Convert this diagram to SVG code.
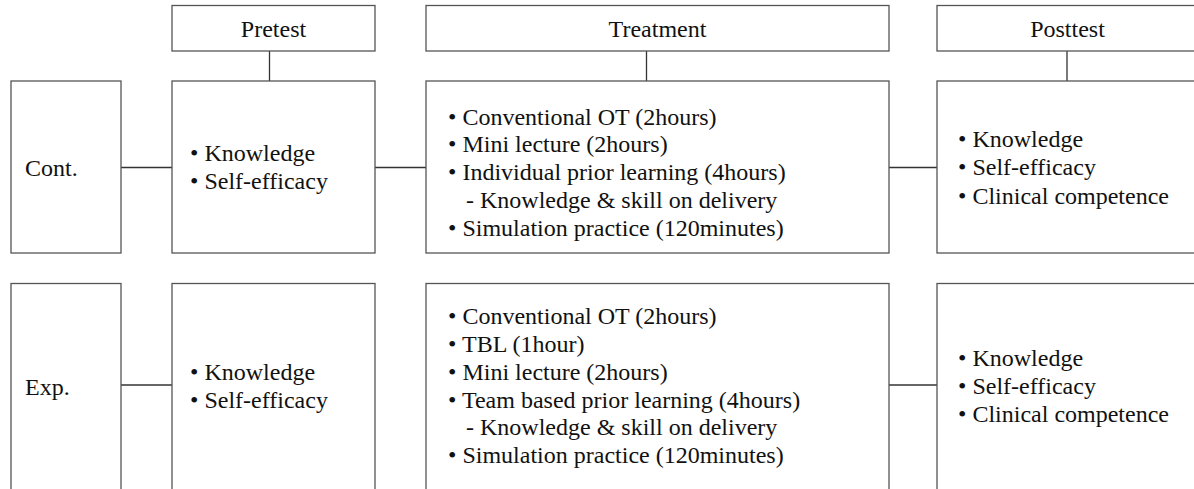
<svg xmlns="http://www.w3.org/2000/svg" width="1194" height="489" viewBox="0 0 1194 489">
<style>
.box{fill:#fff;stroke:#555;stroke-width:1.3}
.con{stroke:#333;stroke-width:1.3;fill:none}
text{font-family:"Liberation Serif","Times New Roman",serif;font-size:24px;fill:#111}
.c{text-anchor:middle}
</style>
<rect width="1194" height="489" fill="#fff"/>
<g id="connectors">
<line class="con" x1="269.5" y1="51" x2="269.5" y2="81"/>
<line class="con" x1="646.5" y1="51" x2="646.5" y2="81"/>
<line class="con" x1="1067" y1="51" x2="1067" y2="81"/>
<line class="con" x1="121" y1="167.5" x2="172" y2="167.5"/>
<line class="con" x1="375" y1="167.5" x2="426" y2="167.5"/>
<line class="con" x1="889" y1="167.5" x2="937" y2="167.5"/>
<line class="con" x1="121" y1="385" x2="172" y2="385"/>
<line class="con" x1="889" y1="385" x2="937" y2="385"/>
</g>
<g id="hdr-pretest"><rect class="box" x="172" y="5.5" width="203" height="45.5"/><text class="c" x="273.5" y="36.5">Pretest</text></g>
<g id="hdr-treatment"><rect class="box" x="426" y="5.5" width="463" height="45.5"/><text class="c" x="657.5" y="36.5">Treatment</text></g>
<g id="hdr-posttest"><rect class="box" x="937" y="5.5" width="263" height="45.5"/><text class="c" x="1067.5" y="36.5">Posttest</text></g>
<g id="cont"><rect class="box" x="11" y="81" width="110" height="172"/><text x="25" y="176">Cont.</text></g>
<g id="cont-pretest"><rect class="box" x="172" y="81" width="203" height="172"/>
<text x="190" y="161">• Knowledge</text><text x="190" y="189">• Self-efficacy</text></g>
<g id="cont-treatment"><rect class="box" x="426" y="81" width="463" height="172"/>
<text x="448" y="124.5">• Conventional OT (2hours)</text>
<text x="448" y="152">• Mini lecture (2hours)</text>
<text x="448" y="180">• Individual prior learning (4hours)</text>
<text x="466" y="208">- Knowledge &amp; skill on delivery</text>
<text x="448" y="236">• Simulation practice (120minutes)</text></g>
<g id="cont-posttest"><rect class="box" x="937" y="81" width="263" height="172"/>
<text x="958" y="146.5">• Knowledge</text><text x="958" y="175">• Self-efficacy</text><text x="958" y="203.5">• Clinical competence</text></g>
<g id="exp"><rect class="box" x="11" y="283.5" width="110" height="220"/><text x="25" y="395">Exp.</text></g>
<g id="exp-pretest"><rect class="box" x="172" y="283.5" width="203" height="220"/>
<text x="190" y="380">• Knowledge</text><text x="190" y="408">• Self-efficacy</text></g>
<g id="exp-treatment"><rect class="box" x="426" y="283.5" width="463" height="220"/>
<text x="448" y="324">• Conventional OT (2hours)</text>
<text x="448" y="352">• TBL (1hour)</text>
<text x="448" y="379.5">• Mini lecture (2hours)</text>
<text x="448" y="407.5">• Team based prior learning (4hours)</text>
<text x="466" y="435">- Knowledge &amp; skill on delivery</text>
<text x="448" y="463">• Simulation practice (120minutes)</text></g>
<g id="exp-posttest"><rect class="box" x="937" y="283.5" width="263" height="220"/>
<text x="958" y="366">• Knowledge</text><text x="958" y="394">• Self-efficacy</text><text x="958" y="422">• Clinical competence</text></g>
</svg>
